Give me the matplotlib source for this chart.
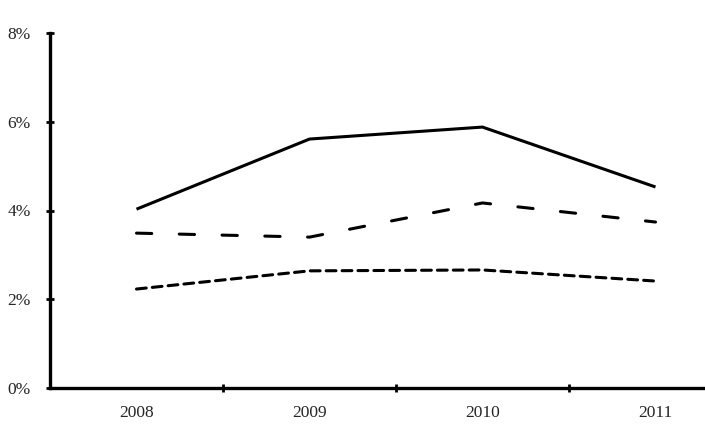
import matplotlib.pyplot as plt

# ===== DONNEES ===== #
years = ["2008", "2009", "2010", "2011"]
serie_pleine = [4.03, 5.61, 5.88, 4.53]
serie_tirets = [3.49, 3.40, 4.17, 3.74]
serie_points = [2.23, 2.64, 2.66, 2.41]
yticks = [0, 2, 4, 6, 8]

plt.rcParams['font.family'] = ['Liberation Serif', 'DejaVu Serif']

fig = plt.figure(figsize=(7.05, 4.32), dpi=100)
# l'axe depasse a droite (image rognee)
ax = fig.add_axes([50 / 705, 44 / 432, 692 / 705, 355 / 432])

x = range(len(years))
lw = 2.2
ax.plot(x, serie_pleine, color='black', lw=lw, solid_capstyle='butt')
ax.plot(x, serie_tirets, color='black', lw=lw, dashes=(5, 9),
        dash_capstyle='round')
ax.plot(x, serie_points, color='black', lw=lw, dashes=(3.2, 2),
        dash_capstyle='round')

ax.set_xlim(-0.5, len(years) - 0.5)
ax.set_ylim(0, 8)
ax.set_yticks(yticks)
ax.set_yticklabels(["{}%".format(v) for v in yticks])

# ticks entre les categories
ax.set_xticks([i + 0.5 for i in range(len(years))])
ax.set_xticklabels([])
ax.set_xticks(list(x), minor=True)
ax.set_xticklabels(years, minor=True)
ax.tick_params(axis='x', which='minor', length=0, pad=12, labelsize=12.5,
               labelcolor='#262626')
ax.tick_params(axis='x', which='major', direction='inout', length=6, width=2)
ax.tick_params(axis='y', direction='inout', length=6, width=2, pad=11,
               labelsize=12.5, labelcolor='#262626')

for side in ['top', 'right']:
    ax.spines[side].set_visible(False)
for side in ['left', 'bottom']:
    ax.spines[side].set_linewidth(2.4)

fig.savefig("out.png", dpi=100)
